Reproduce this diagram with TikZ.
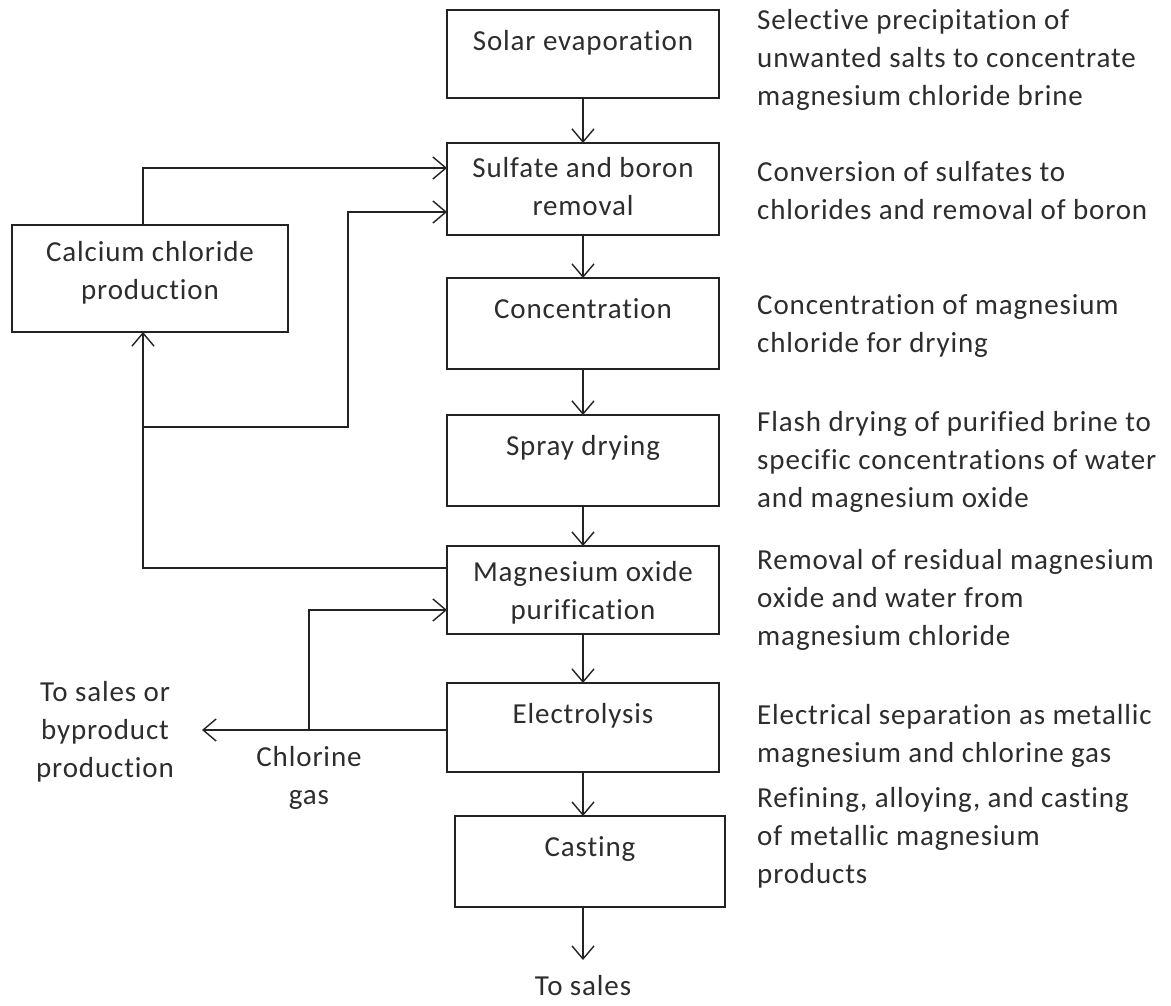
\documentclass[tikz,border=0pt]{standalone}
\usepackage{fontspec}
\setmainfont{Carlito}[Ligatures={NoCommon,TeX},LetterSpace=3]
\usetikzlibrary{arrows.meta}
\definecolor{linec}{RGB}{35,35,35}
\definecolor{textc}{RGB}{45,45,45}
\newcommand\tstrut{\rule{0pt}{24pt}}
\begin{document}
\begin{tikzpicture}[x=1pt,y=-1pt,
  ln/.style={draw=linec, line width=1.4pt},
  arr/.style={ln, -{Straight Barb[length=13pt,width=22pt,line width=1.4pt]}},
  box/.style={draw=linec, line width=1.4pt, inner sep=0pt, outer sep=0pt, minimum width=272pt},
  txt/.style={text=textc, font=\fontsize{29}{38}\selectfont, align=center, anchor=north, inner sep=0pt, execute at begin node=\tstrut},
  desc/.style={text=textc, font=\fontsize{29}{38}\selectfont, align=left, anchor=north west, inner sep=0pt, execute at begin node=\tstrut}]
\useasboundingbox (0,0) rectangle (1171,1006);
\fill[white] (0,0) rectangle (1171,1006);

% boxes
\node[box, minimum height=88pt] (solar) at (583,54) {};
\node[box, minimum height=92pt] (sulf) at (583,189) {};
\node[box, minimum height=91pt] (conc) at (583,323.5) {};
\node[box, minimum height=91pt] (spray) at (583,460.5) {};
\node[box, minimum height=88pt] (mgo) at (583,590) {};
\node[box, minimum height=89pt] (elec) at (583,727.5) {};
\node[box, minimum height=91pt, minimum width=270pt] (cast) at (590,861.5) {};
\node[box, minimum height=107pt, minimum width=276pt] (calc) at (150,278.5) {};

% box texts (north = first baseline - 24)
\node[txt] (tsolar) at (583,26) {Solar evaporation};
\node[txt] (tsulf) at (583,157) {Sulfate and boron\\removal};
\node[txt] (tconc) at (583,294) {Concentration};
\node[txt] (tspray) at (583,431) {Spray drying};
\node[txt] (tmgo) at (583,561) {Magnesium oxide\\purification};
\node[txt] (telec) at (583,699) {Electrolysis};
\node[txt] (tcast) at (590,832) {Casting};
\node[txt] (tcalc) at (150,241) {Calcium chloride\\production};

% descriptions
\node[desc] (dsolar) at (757,9) {Selective precipitation of\\unwanted salts to concentrate\\magnesium chloride brine};
\node[desc] (dsulf) at (757,161) {Conversion of sulfates to\\chlorides and removal of boron};
\node[desc] (dconc) at (757,294) {Concentration of magnesium\\chloride for drying};
\node[desc] (dspray) at (757,411) {Flash drying of purified brine to\\specific concentrations of water\\and magnesium oxide};
\node[desc] (dmgo) at (757,549) {Removal of residual magnesium\\oxide and water from\\magnesium chloride};
\node[desc] (delec) at (757,704) {Electrical separation as metallic\\magnesium and chlorine gas};
\node[desc] (dcast) at (757,787) {Refining, alloying, and casting\\of metallic magnesium\\products};

% side labels
\node[txt] (byprod) at (105,681) {To sales or\\byproduct\\production};
\node[txt] (chlor) at (309,746) {Chlorine\\gas};
\node[txt] (tosales) at (583,971) {To sales};

% helper coordinates
\coordinate (xa) at (143,0);
\coordinate (xb) at (348,0);
\coordinate (xc) at (309,0);
\coordinate (ya) at (0,168);
\coordinate (yb) at (0,212);
\coordinate (yc) at (0,427);
\coordinate (yd) at (0,568);
\coordinate (ye) at (0,610);
\coordinate (yf) at (0,730);
\coordinate (bytip) at (202,730);
\coordinate (salestip) at (583,960);

% main flow
\draw[arr] (solar.south) -- (sulf.north);
\draw[arr] (sulf.south) -- (conc.north);
\draw[arr] (conc.south) -- (spray.north);
\draw[arr] (spray.south) -- (mgo.north);
\draw[arr] (mgo.south) -- (elec.north);
\draw[arr] (elec.south) -- (elec.south |- cast.north);
\draw[arr] (elec.south |- cast.south) -- (salestip);

% recycle loops
\draw[arr] (calc.north -| xa) -- (xa |- ya) -- (sulf.west |- ya);
\draw[arr] (mgo.west |- yd) -- (xa |- yd) -- (calc.south -| xa);
\draw[arr] (xa |- yc) -- (xb |- yc) -- (xb |- yb) -- (sulf.west |- yb);
\draw[arr] (elec.west |- yf) -- (bytip);
\draw[arr] (xc |- yf) -- (xc |- ye) -- (mgo.west |- ye);
\end{tikzpicture}
\end{document}
